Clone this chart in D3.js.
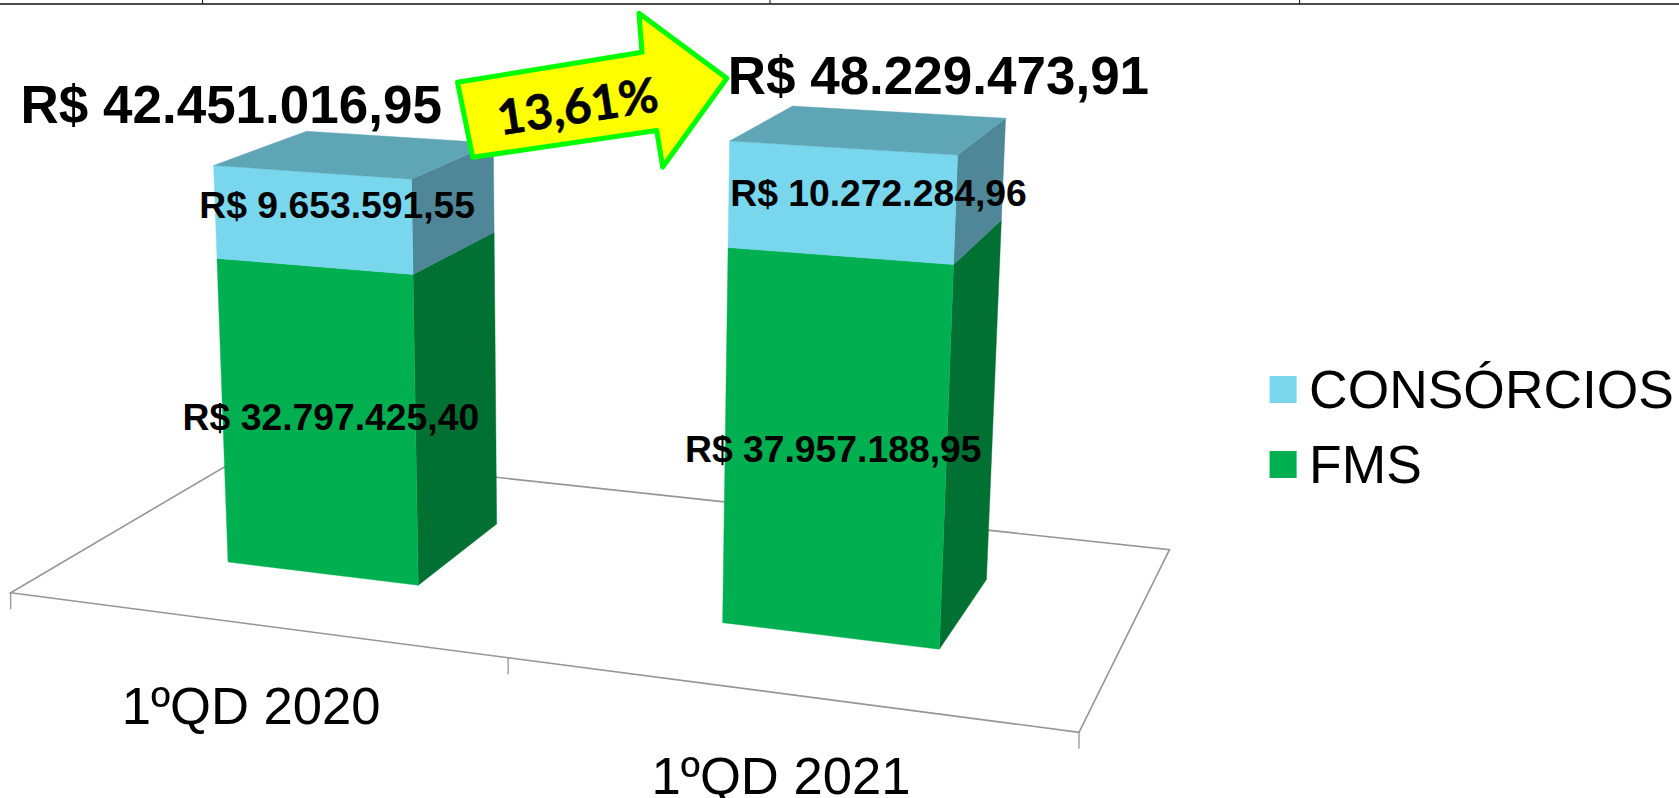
<!DOCTYPE html>
<html>
<head>
<meta charset="utf-8">
<style>
  body { margin: 0; background: #fff; }
  svg { display: block; }
  text { font-family: "Liberation Sans", Arial, sans-serif; fill: #000; }
</style>
</head>
<body>
<svg width="1679" height="798"></svg>
<script src="https://cdn.jsdelivr.net/npm/d3@7"></script>
<script>
// Chart values
const categories = ["1ºQD 2020", "1ºQD 2021"];
const seriesNames = ["FMS", "CONSÓRCIOS"];
const fms = [32797425.40, 37957188.95];
const consorcios = [9653591.55, 10272284.96];
const legendOrder = ["CONSÓRCIOS", "FMS"];

const svg = d3.select("svg");

const brl = d3.formatLocale({
    decimal: ",", thousands: ".", grouping: [3], currency: ["R$ ", ""]
}).format("$,.2f");

const rows = categories.map((c, i) => ({ category: c, FMS: fms[i], "CONSÓRCIOS": consorcios[i] }));
const stacked = d3.stack().keys(seriesNames)(rows);
const totals = rows.map(r => r.FMS + r["CONSÓRCIOS"]);
const growth = (totals[1] / totals[0] - 1) * 100;

const colors = {
    FMS: { front: "#00b050", side: "#007033" },
    "CONSÓRCIOS": { front: "#78d7ed", side: "#4f8799", top: "#5ea5b6" }
};

// floor of the 3D plot, corners
const floor = { fl: [10.7, 592.7], fr: [1079, 732.3], br: [1169.5, 549.7], bl: [251.5, 451] };
// vertical vanishing point, horizon line and the value that sits on the horizon
const vanish = [582, 10300], horizonY = -350;

// bars take 40% of the band, same gap logic along x and depth
const xBand = d3.scaleBand().domain(categories).range([0, 1]).paddingInner(0.6).paddingOuter(0.3);
const zBand = d3.scaleBand().domain(["bars"]).range([0, 1]).paddingInner(0.6).paddingOuter(0.3);
const valueToHorizon = d3.scaleLinear().domain([0, 92.9e6]).range([0, 1]);

// unit square -> floor quad (projective)
const H = (function () {
    const [x0, y0] = floor.fl, [x1, y1] = floor.fr, [x2, y2] = floor.br, [x3, y3] = floor.bl;
    const dx1 = x1 - x2, dx2 = x3 - x2, sx = x0 - x1 + x2 - x3;
    const dy1 = y1 - y2, dy2 = y3 - y2, sy = y0 - y1 + y2 - y3;
    const den = dx1 * dy2 - dx2 * dy1;
    const g = (sx * dy2 - dx2 * sy) / den;
    const h = (dx1 * sy - sx * dy1) / den;
    return { a: x1 - x0 + g * x1, b: x3 - x0 + h * x3, c: x0, d: y1 - y0 + g * y1, e: y3 - y0 + h * y3, f: y0, g, h };
})();

function floorPoint(u, v) {
    const w = H.g * u + H.h * v + 1;
    return [(H.a * u + H.b * v + H.c) / w, (H.d * u + H.e * v + H.f) / w];
}

function project(u, v, value) {
    const [x0, y0] = floorPoint(u, v);
    const up = y0 - horizonY, down = vanish[1] - y0;
    const t = valueToHorizon(value);
    const rise = down * (t * up) / ((up + down) - t * up);
    return [x0 - (vanish[0] - x0) * rise / down, y0 - rise];
}

const line = d3.line();
const poly = pts => line(pts) + "Z";

// top border of the table the chart was pasted under
const topLine = svg.append("g");
topLine.append("line").attr("x1", 0).attr("x2", 1679).attr("y1", 4).attr("y2", 4)
    .attr("stroke", "#111").attr("stroke-width", 1.6);
[202.5, 770, 1299.6].forEach(x => {
    topLine.append("line").attr("x1", x).attr("x2", x).attr("y1", 0).attr("y2", 4)
        .attr("stroke", "#111").attr("stroke-width", 1);
});

// floor and ticks
const floorG = svg.append("g").attr("fill", "none").attr("stroke", "#969696").attr("stroke-width", 1.6);
floorG.append("path").attr("d", poly([floor.fl, floor.fr, floor.br, floor.bl]));
const step = xBand.step();
d3.range(categories.length + 1).forEach(i => {
    const [x, y] = floorPoint(i * step, 0);
    floorG.append("line").attr("x1", x).attr("x2", x).attr("y1", y).attr("y2", y + 16.5)
        .attr("stroke-width", 1.3);
});

// bars
const z0 = zBand("bars"), z1 = z0 + zBand.bandwidth();
categories.forEach((cat, i) => {
    const x0 = xBand(cat), x1 = x0 + xBand.bandwidth();
    const g = svg.append("g");
    stacked.forEach(layer => {
        const [lo, hi] = layer[i];
        const c = colors[layer.key];
        g.append("path").attr("fill", c.side).attr("stroke", c.side).attr("stroke-width", 0.4)
            .attr("d", poly([project(x1, z0, lo), project(x1, z1, lo), project(x1, z1, hi), project(x1, z0, hi)]));
        g.append("path").attr("fill", c.front).attr("stroke", c.front).attr("stroke-width", 0.4)
            .attr("d", poly([project(x0, z0, lo), project(x1, z0, lo), project(x1, z0, hi), project(x0, z0, hi)]));
        if (c.top) {
            g.append("path").attr("fill", c.top).attr("stroke", c.top).attr("stroke-width", 0.4)
                .attr("d", poly([project(x0, z0, hi), project(x1, z0, hi), project(x1, z1, hi), project(x0, z1, hi)]));
        }
    });
});

// value labels, nudged off the centre of the front face like the original
const labelNudge = {
    FMS: [[13, 7.7], [-1, 12.2]],
    "CONSÓRCIOS": [[24.7, -1.9], [37.9, 3.4]]
};
stacked.forEach(layer => {
    layer.forEach((d, i) => {
        const mid = xBand(categories[i]) + xBand.bandwidth() / 2;
        const [x, y] = project(mid, z0, (d[0] + d[1]) / 2);
        const [dx, dy] = labelNudge[layer.key][i];
        svg.append("text").attr("x", x + dx).attr("y", y + dy)
            .attr("text-anchor", "middle").attr("font-weight", "bold").attr("font-size", 37.3)
            .text(brl(d[1] - d[0]));
    });
});

// totals over the bars
const totalNudge = [[-80, -49], [96.4, -54]];
totals.forEach((t, i) => {
    const mid = xBand(categories[i]) + xBand.bandwidth() / 2;
    const [x, y] = project(mid, z0, t);
    svg.append("text").attr("x", x + totalNudge[i][0]).attr("y", y + totalNudge[i][1])
        .attr("text-anchor", "middle").attr("font-weight", "bold").attr("font-size", 53)
        .text(brl(t));
});

// category labels under the front edge
const categoryNudge = [0, -2.5];
categories.forEach((cat, i) => {
    const [x, y] = floorPoint(xBand(cat) + xBand.bandwidth() / 2, 0);
    svg.append("text").attr("x", x + categoryNudge[i]).attr("y", y + 100)
        .attr("text-anchor", "middle").attr("font-size", 52.6).text(cat);
});

// growth arrow
const arrowShape = [[457.5, 82.3], [642, 52.3], [639, 13.3], [726.8, 78.3], [662.7, 167], [656.7, 130.5], [472.7, 157.3]];
svg.append("path").attr("d", poly(arrowShape))
    .attr("fill", "#ffff00").attr("stroke", "#00ff00").attr("stroke-width", 5).attr("stroke-linejoin", "round");
svg.append("text").attr("transform", "translate(580,123) rotate(-8.7)")
    .attr("text-anchor", "middle").style("font-family", "Lato").attr("font-weight", "bold").attr("font-size", 48)
    .attr("stroke", "#000").attr("stroke-width", 0.6)
    .text(d3.format(".2f")(growth).replace(".", ",") + "%");

// legend
const legendY = d3.scalePoint().domain(legendOrder).range([376, 451]);
const legend = svg.append("g").selectAll("g").data(legendOrder).join("g")
    .attr("transform", d => `translate(1269.6,${legendY(d)})`);
legend.append("rect").attr("width", 27).attr("height", 27).attr("fill", d => colors[d].front);
legend.append("text").attr("x", 39.5).attr("y", 32).attr("font-size", 53.4).text(d => d);
</script>
</body>
</html>
